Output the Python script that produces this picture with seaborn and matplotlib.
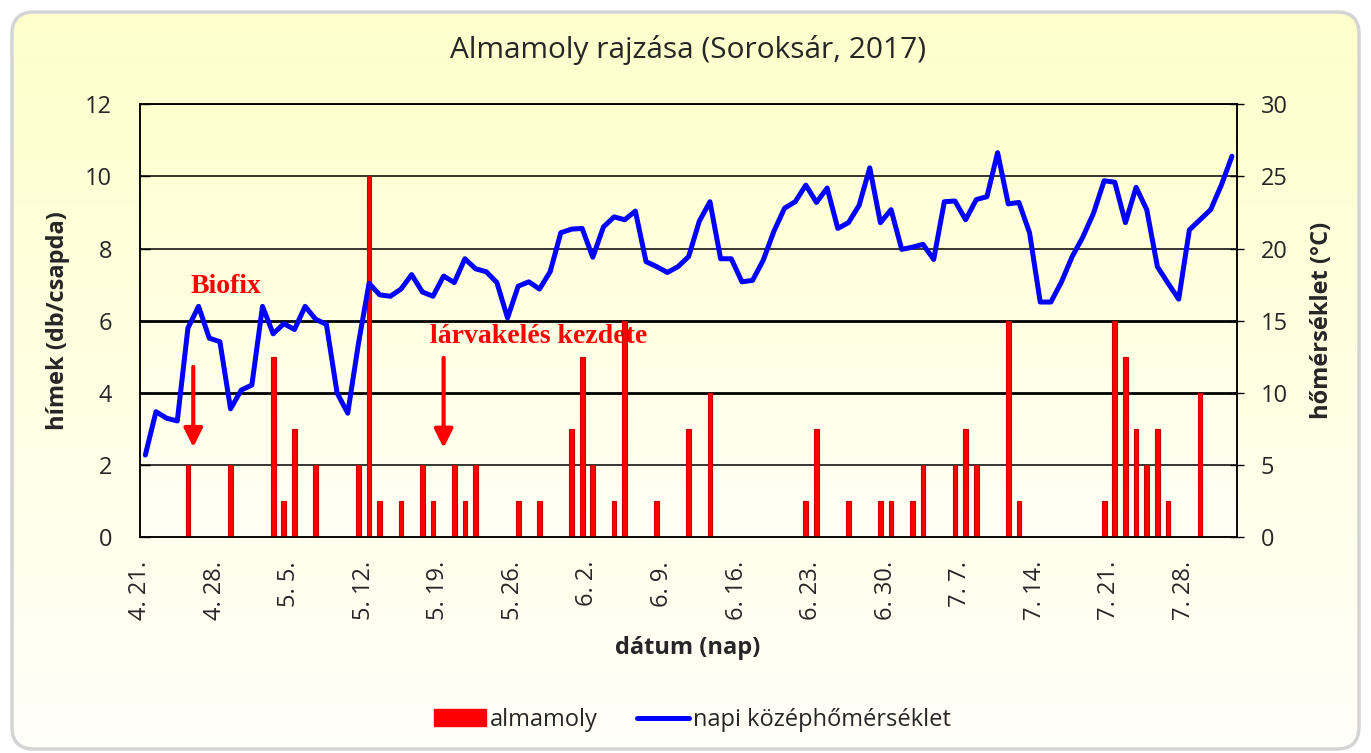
import numpy as np
import pandas as pd
import matplotlib
matplotlib.use("Agg")
import matplotlib.pyplot as plt
import seaborn as sns
from matplotlib.patches import FancyBboxPatch, Patch
from matplotlib.lines import Line2D

# =====================================================
# Data (days counted from 4. 21., 2017)
# =====================================================

# daily mean temperature, one value per day from 4.21 to 8.1
temperature = [
    5.7, 8.7, 8.25, 8.06, 14.5, 16.0, 13.8, 13.55, 8.9, 10.2,
    10.55, 16.0, 14.1, 14.8, 14.4, 16.0, 15.1, 14.75, 10.0, 8.6,
    13.4, 17.6, 16.8, 16.7, 17.2, 18.2, 17.0, 16.7, 18.1, 17.65,
    19.3, 18.6, 18.4, 17.65, 15.2, 17.4, 17.7, 17.2, 18.4, 21.1,
    21.35, 21.4, 19.4, 21.5, 22.2, 22.0, 22.6, 19.1, 18.75, 18.35,
    18.75, 19.45, 21.9, 23.25, 19.3, 19.3, 17.7, 17.8, 19.2, 21.2,
    22.8, 23.25, 24.4, 23.2, 24.2, 21.4, 21.8, 23.0, 25.6, 21.8,
    22.7, 19.95, 20.1, 20.3, 19.25, 23.25, 23.3, 22.0, 23.4, 23.6,
    26.65, 23.1, 23.2, 21.1, 16.3, 16.3, 17.7, 19.45, 20.8, 22.45,
    24.7, 24.6, 21.8, 24.25, 22.7, 18.75, 17.6, 16.5, 21.3, 22.0,
    22.7, 24.4, 26.4,
]

# trap catches: day offset and number of males per trap
catch_day = [
    4, 8, 12, 13, 14, 16, 20, 21, 22, 24, 26, 27, 29, 30, 31,
    35, 37, 40, 41, 42, 44, 45, 48, 51, 53, 62, 63, 66,
    69, 70, 72, 73, 76, 77, 78, 81, 82, 90, 91, 92, 93, 94, 95, 96, 99,
]
catch_count = [
    2, 2, 5, 1, 3, 2, 2, 10, 1, 1, 2, 1, 2, 1, 2,
    1, 1, 3, 5, 2, 1, 6, 1, 3, 4, 1, 3, 1,
    1, 1, 1, 2, 2, 3, 2, 6, 1, 1, 6, 5, 3, 2, 3, 1, 4,
]

tick_days = [0, 7, 14, 21, 28, 35, 42, 49, 56, 63, 70, 77, 84, 91, 98]
tick_labels = [
    "4. 21.", "4. 28.", "5. 5.", "5. 12.", "5. 19.", "5. 26.", "6. 2.",
    "6. 9.", "6. 16.", "6. 23.", "6. 30.", "7. 7.", "7. 14.", "7. 21.", "7. 28.",
]

n_days = len(temperature)

temp_df = pd.DataFrame({
    "pos": np.arange(n_days) + 0.5,
    "temp": temperature,
})
catch_df = pd.DataFrame({
    "pos": np.array(catch_day) + 0.5,
    "count": catch_count,
})

# =====================================================
# Figure and background
# =====================================================

sns.set_theme(style="white")
plt.rcParams["font.family"] = ["Open Sans", "DejaVu Sans"]

W, H = 1371, 753
fig = plt.figure(figsize=(W / 100, H / 100), dpi=100)
fig.patch.set_facecolor("white")

# rounded yellow panel with vertical gradient
bg = fig.add_axes([0, 0, 1, 1], zorder=-2)
bg.axis("off")

top_col = np.array([255, 255, 204]) / 255
bot_col = np.array([255, 255, 250]) / 255
grad = np.linspace(0, 1, 256)[:, None]
grad_img = top_col[None, None, :] * (1 - grad[..., None]) + bot_col[None, None, :] * grad[..., None]

panel = FancyBboxPatch(
    (12, 12), W - 24, H - 16,
    boxstyle="round,pad=0,rounding_size=22",
    facecolor="none", edgecolor="#d4d4d4", linewidth=2.5,
)
bg.add_patch(panel)
img = bg.imshow(grad_img, extent=[12, W - 12, H - 4, 12], aspect="auto", zorder=0)
img.set_clip_path(panel)

# plot area gradient
pl, pr, pt, pb = 140, 1237.3, 104.3, 537.3
plot_top = np.array([255, 255, 208]) / 255
plot_bot = np.array([255, 255, 246]) / 255
plot_img = plot_top[None, None, :] * (1 - grad[..., None]) + plot_bot[None, None, :] * grad[..., None]
bg.imshow(plot_img, extent=[pl, pr, pb, pt], aspect="auto", zorder=1)
bg.set_xlim(0, W)
bg.set_ylim(H, 0)

ax = fig.add_axes([pl / W, 1 - pb / H, (pr - pl) / W, (pb - pt) / H])
ax.set_facecolor("none")

# =====================================================
# Moth catches (bars)
# =====================================================

for lvl in [2, 4, 6, 8, 10, 12]:
    ax.axhline(lvl, color="black", linewidth=2.0 if lvl in (4, 6) else 1.1, zorder=1)

sns.barplot(
    data=catch_df,
    x="pos",
    y="count",
    native_scale=True,
    width=0.45,
    color="#ff0000",
    saturation=1,
    edgecolor="#c80000",
    linewidth=0.8,
    errorbar=None,
    ax=ax,
    zorder=3,
)

ax.set_xlim(0, n_days)
ax.set_ylim(0, 12)
ax.set_yticks(range(0, 13, 2))
ax.set_xticks(tick_days)
ax.set_xticklabels(tick_labels, rotation=90, fontsize=17)
ax.tick_params(axis="x", direction="out", length=7, width=1, color="black", pad=10)
ax.tick_params(axis="y", direction="in", length=7, width=1, color="black", pad=20, labelsize=17)

for s in ax.spines.values():
    s.set_color("black")
    s.set_linewidth(1.1)

ax.set_xlabel("dátum (nap)", fontsize=17, fontweight="bold")
ax.xaxis.set_label_coords(0.4994, -0.228)
ax.set_ylabel("hímek (db/csapda)", fontsize=17, fontweight="bold")
ax.yaxis.set_label_coords(-0.064, 0.5)

# annotations
ax.annotate(
    "", xy=(5.0, 2.42), xytext=(5.0, 4.8),
    arrowprops=dict(arrowstyle="-|>", color="#ff0000", lw=3, mutation_scale=28),
    zorder=2,
)
ax.annotate(
    "", xy=(28.5, 2.4), xytext=(28.5, 5.05),
    arrowprops=dict(arrowstyle="-|>", color="#ff0000", lw=3, mutation_scale=28),
    zorder=2,
)
ax.text(8.05, 6.95, "Biofix", color="#ff0000", fontsize=20, fontweight="bold",
        family=["Liberation Serif", "DejaVu Serif"], ha="center", va="center", zorder=2)
ax.text(37.4, 5.56, "lárvakelés kezdete", color="#ff0000", fontsize=20, fontweight="bold",
        family=["Liberation Serif", "DejaVu Serif"], ha="center", va="center", zorder=2)

# =====================================================
# Daily mean temperature (line)
# =====================================================

ax2 = ax.twinx()
sns.lineplot(
    data=temp_df,
    x="pos",
    y="temp",
    color="#0000ff",
    linewidth=3.6,
    ax=ax2,
)
ax2.set_xlim(0, n_days)
ax2.set_ylim(0, 30)
ax2.set_yticks(range(0, 31, 5))
ax2.tick_params(axis="y", direction="inout", length=10, width=1, color="black", pad=12, labelsize=17)
ax2.set_ylabel("hőmérséklet (°C)", fontsize=17, fontweight="bold")
ax2.yaxis.set_label_coords(1.0663, 0.5)
ax2.set_xlabel("")
for s in ax2.spines.values():
    s.set_color("black")
    s.set_linewidth(1.1)

# =====================================================
# Title and legend
# =====================================================

fig.text(0.502, 1 - 50 / H, "Almamoly rajzása (Soroksár, 2017)", fontsize=21.5,
         ha="center", va="center")

handles = [
    Patch(facecolor="#ff0000", edgecolor="#ff0000"),
    Line2D([0], [0], color="#0000ff", linewidth=3.6),
]
fig.legend(
    handles, ["almamoly", "napi középhőmérséklet"],
    loc="center", bbox_to_anchor=(0.505, 1 - 720 / H), ncol=2, frameon=False,
    fontsize=17, handlelength=2.2, handleheight=0.75, handletextpad=0.15,
    columnspacing=1.7,
)

fig.savefig("out.png", dpi=100)
plt.close(fig)
